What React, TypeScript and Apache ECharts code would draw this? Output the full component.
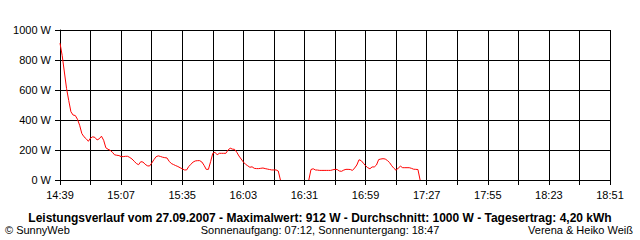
import React, { useEffect, useRef } from "react";
import * as echarts from "echarts";

// Start of the measurement window and length of x axis (minutes)
const startTime = "14:39";
const endTime = "18:51";
const gridStepMinutes = 14;
const labelStepMinutes = 28;
const stepMinutes = 1;

// Power readings, one per minute from 14:39 (null = no data)
const watts: (number | null)[] = [
  912, 830, 720, 610, 530, 455, 433, 430, 405, 365,
  310, 288, 275, 258, 280, 288, 284, 267, 275, 292,
  265, 215, 205, 198, 185, 168, 165, 163, 156, 156,
  158, 158, 150, 140, 125, 110, 102, 122, 120, 105,
  95, 93, 112, 135, 155, 161, 157, 152, 149, 147,
  125, 110, 103, 96, 90, 82, 75, 67, 67, 90,
  105, 120, 127, 129, 129, 120, 98, 71, 71, 122,
  178, 185, 168, 178, 178, 178, 178, 200, 212, 206,
  204, 185, 160, 140, 120, 105, 95, 85, 88, 78,
  76, 76, 78, 80, 76, 73, 70, 67, 67, 67,
  60, 0, null, null, null, null, null, null, null, null,
  null, null, null, null, 0, 70, 75, 67, 66, 64,
  64, 64, 64, 64, 64, 68, 71, 70, 60, 58,
  66, 71, 71, 70, 64, 80, 100, 135, 129, 112,
  95, 82, 75, 87, 87, 100, 136, 140, 142, 140,
  130, 116, 95, 78, 65, 80, 92, 82, 82, 82,
  82, 78, 72, 71, 70, 0,
];

const yTicks = { min: 0, max: 1000, interval: 200 };

const titleText =
  "Leistungsverlauf vom 27.09.2007 - Maximalwert: 912 W - Durchschnitt: 1000 W - Tagesertrag: 4,20 kWh";
const copyrightText = "© SunnyWeb";
const sunText = "Sonnenaufgang: 07:12, Sonnenuntergang: 18:47";
const authorText = "Verena & Heiko Weiß";

const toMin = (s: string) => {
  const [h, m] = s.split(":").map(Number);
  return h * 60 + m;
};
const fmt = (mins: number) => {
  const h = Math.floor(mins / 60);
  const m = mins % 60;
  return `${h}:${m < 10 ? "0" : ""}${m}`;
};

export default function App() {
  const ref = useRef<HTMLDivElement>(null);
  useEffect(() => {
    if (!ref.current) return;
    const chart = echarts.init(ref.current, undefined, { renderer: "svg" });
    const start = toMin(startTime);
    const span = toMin(endTime) - start;
    const font = "Liberation Sans, Arial, sans-serif";
    const data = watts.map((w, i) => [i * stepMinutes, w]);
    chart.setOption({
      animation: false,
      backgroundColor: "#ffffff",
      grid: { left: 60, right: 30, top: 30, bottom: 60, containLabel: false },
      xAxis: {
        type: "value",
        min: 0,
        max: span,
        interval: gridStepMinutes,
        axisLine: { show: true, lineStyle: { color: "#000", width: 1 } },
        axisTick: { show: true, length: 5, lineStyle: { color: "#000", width: 1 } },
        splitLine: { show: true, lineStyle: { color: "#000", width: 1 } },
        axisLabel: {
          color: "#000",
          fontFamily: font,
          fontSize: 11,
          margin: 9,
          showMinLabel: true,
          showMaxLabel: true,
          formatter: (v: number) =>
            Math.round(v) % labelStepMinutes === 0 ? fmt(start + Math.round(v)) : "",
        },
      },
      yAxis: {
        type: "value",
        min: yTicks.min,
        max: yTicks.max,
        interval: yTicks.interval,
        axisLine: { show: true, lineStyle: { color: "#000", width: 1 } },
        axisTick: { show: true, length: 5, lineStyle: { color: "#000", width: 1 } },
        splitLine: { show: true, lineStyle: { color: "#000", width: 1 } },
        axisLabel: {
          color: "#000",
          fontFamily: font,
          fontSize: 11,
          margin: 9,
          formatter: (v: number) => `${Math.round(v)} W`,
        },
      },
      series: [
        {
          type: "line",
          data,
          showSymbol: false,
          connectNulls: false,
          lineStyle: { color: "#ff0000", width: 1 },
          itemStyle: { color: "#ff0000" },
          z: 5,
        },
      ],
      graphic: [
        {
          type: "text",
          x: 320,
          y: 218,
          style: {
            text: titleText,
            fill: "#000",
            font: `bold 12px ${font}`,
            textAlign: "center",
            textVerticalAlign: "middle",
          },
        },
        {
          type: "text",
          x: 5,
          y: 230,
          style: {
            text: copyrightText,
            fill: "#000",
            font: `11px ${font}`,
            textAlign: "left",
            textVerticalAlign: "middle",
          },
        },
        {
          type: "text",
          x: 320,
          y: 230,
          style: {
            text: sunText,
            fill: "#000",
            font: `11px ${font}`,
            textAlign: "center",
            textVerticalAlign: "middle",
          },
        },
        {
          type: "text",
          x: 633,
          y: 230,
          style: {
            text: authorText,
            fill: "#000",
            font: `11px ${font}`,
            textAlign: "right",
            textVerticalAlign: "middle",
          },
        },
      ],
    });
    return () => chart.dispose();
  }, []);
  return <div ref={ref} style={{ width: 640, height: 240, position: "fixed", left: 0, top: 0 }} />;
}
